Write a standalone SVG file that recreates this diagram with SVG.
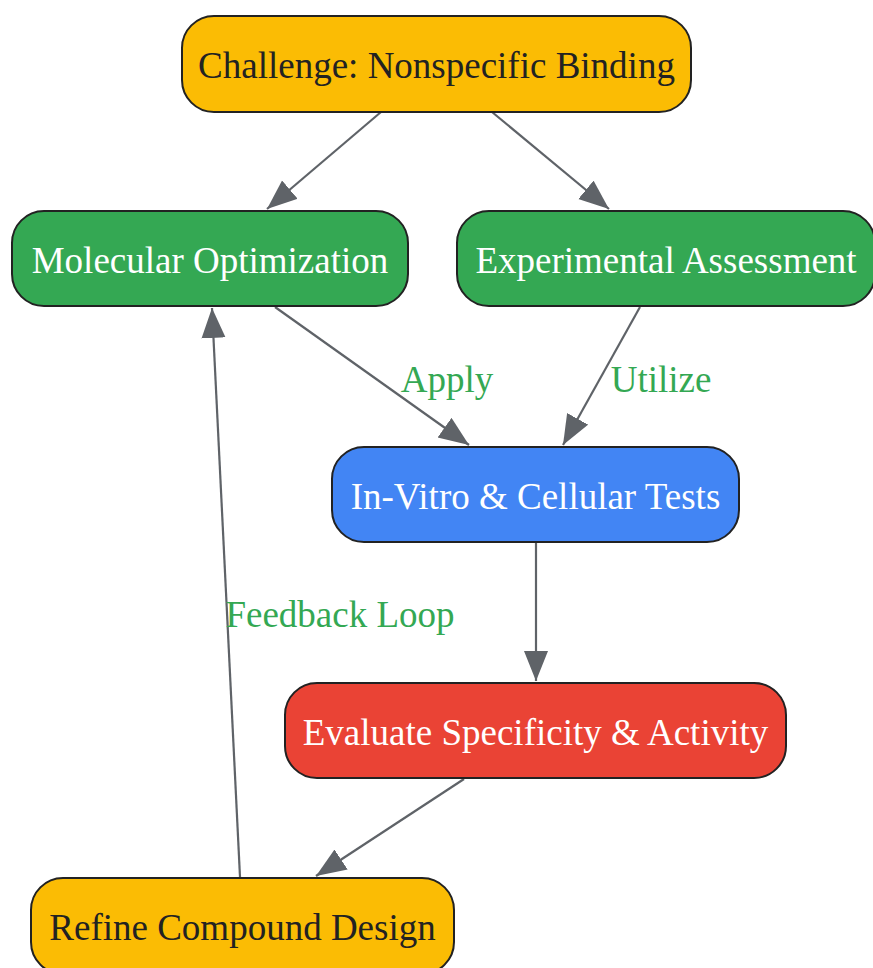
<svg xmlns="http://www.w3.org/2000/svg" width="873" height="968" viewBox="0 0 873 968">
<style>
.node rect{stroke:#222;stroke-width:2}
.node text{font-family:"Liberation Serif","Times New Roman",serif;font-size:37px;text-anchor:middle;dominant-baseline:central}
.dark{fill:#222}
.light{fill:#fff}
.edge{stroke:#5f6368;stroke-width:2.2;fill:none;marker-end:url(#arr)}
.lbl{font-family:"Liberation Serif","Times New Roman",serif;font-size:37px;fill:#34A853;text-anchor:middle;dominant-baseline:central}
</style>
<defs>
<marker id="arr" markerUnits="userSpaceOnUse" markerWidth="32" markerHeight="26" refX="30" refY="12" orient="auto">
<path d="M0,0 L30,12 L0,24 z" fill="#5f6368"/>
</marker>
</defs>
<rect width="873" height="968" fill="#fff"/>
<g id="connectors">
<line class="edge" x1="381" y1="112" x2="267" y2="209"/>
<line class="edge" x1="492" y1="112" x2="609" y2="209"/>
<line class="edge" x1="275" y1="307" x2="469" y2="445"/>
<line class="edge" x1="640" y1="307" x2="563" y2="445"/>
<line class="edge" x1="536" y1="543" x2="536" y2="681"/>
<line class="edge" x1="464" y1="779" x2="316" y2="876"/>
<line class="edge" x1="240" y1="877" x2="212" y2="308"/>
<text class="lbl" x="447" y="379">Apply</text>
<text class="lbl" x="661" y="379">Utilize</text>
<text class="lbl" x="340" y="614">Feedback Loop</text>
</g>
<g id="challenge" class="node">
<rect x="182" y="16" width="509" height="96" rx="32" fill="#FBBC04"/>
<text class="dark" x="436.5" y="65">Challenge: Nonspecific Binding</text>
</g>
<g id="molecular" class="node">
<rect x="12" y="211" width="396" height="95" rx="32" fill="#34A853"/>
<text class="light" x="210" y="260">Molecular Optimization</text>
</g>
<g id="experimental" class="node">
<rect x="457" y="211" width="418" height="95" rx="32" fill="#34A853"/>
<text class="light" x="666" y="260">Experimental Assessment</text>
</g>
<g id="invitro" class="node">
<rect x="332" y="447" width="407" height="95" rx="32" fill="#4285F4"/>
<text class="light" x="535.5" y="496">In-Vitro &amp; Cellular Tests</text>
</g>
<g id="evaluate" class="node">
<rect x="285" y="683" width="501" height="95" rx="32" fill="#EA4335"/>
<text class="light" x="535.5" y="732">Evaluate Specificity &amp; Activity</text>
</g>
<g id="refine" class="node">
<rect x="31" y="878" width="423" height="96" rx="32" fill="#FBBC04"/>
<text class="dark" x="242.5" y="927">Refine Compound Design</text>
</g>
</svg>
